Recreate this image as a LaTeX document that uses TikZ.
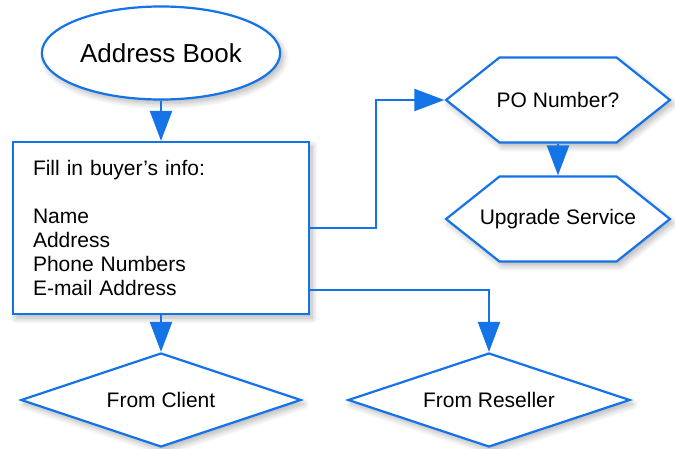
\documentclass[tikz,border=0pt]{standalone}
\usepackage{fontspec}
\setmainfont{Liberation Sans}
\usetikzlibrary{shapes.geometric,shapes.symbols,arrows.meta,shadows.blur}
\definecolor{flowblue}{HTML}{1473E6}
\newcommand{\hexlabel}[1]{\makebox[117pt]{#1}}

\begin{document}
\begin{tikzpicture}[x=1pt,y=-1pt,
        shapebase/.style={draw=flowblue, line width=2.2pt, fill=white,
            blur shadow={shadow xshift=3pt, shadow yshift=-4pt, shadow blur steps=8,
                shadow blur radius=6pt, shadow opacity=30},
            font=\fontsize{21}{24}\selectfont},
        hexbox/.style={shapebase, signal, signal to=west and east, signal pointer angle=77,
            inner xsep=0pt, minimum height=85pt},
        decision/.style={shapebase, diamond, inner sep=0pt, shape aspect=2.98, minimum height=94pt},
        flow/.style={draw=flowblue, line width=2.2pt, -{Triangle[width=22pt,length=30pt]}}]
        \useasboundingbox (0,0) rectangle (675,449);

        \node[shapebase, ellipse, minimum width=238pt, minimum height=93pt,
            font=\fontsize{26}{30}\selectfont] (book) at (161,53) {Address Book};
        \node[shapebase, rectangle, text width=256pt, inner xsep=20pt, minimum height=172pt,
            align=left] (info) at (161,228)
            {Fill in buyer's info:\\[24pt]Name\\Address\\Phone Numbers\\E-mail Address};
        \node[hexbox] (po) at (558,100) {\hexlabel{PO Number?}};
        \node[hexbox] (upg) at (558,219) {\hexlabel{Upgrade Service}};
        \node[decision, minimum width=280pt] (client) at (161,400) {From Client};
        \node[decision, minimum width=282pt] (resell) at (489,400) {From Reseller};

        \draw[flow] (book.south) -- (info.north);
        \draw[flow] (info.east) -- ++(66,0) |- (po.west);
        \draw[flow] ([yshift=25pt]info.south east) -| (resell.north);
        \draw[flow] (info.south) -- (client.north);
        \draw[flow] (po.south) -- (upg.north);
    \end{tikzpicture}
\end{document}
